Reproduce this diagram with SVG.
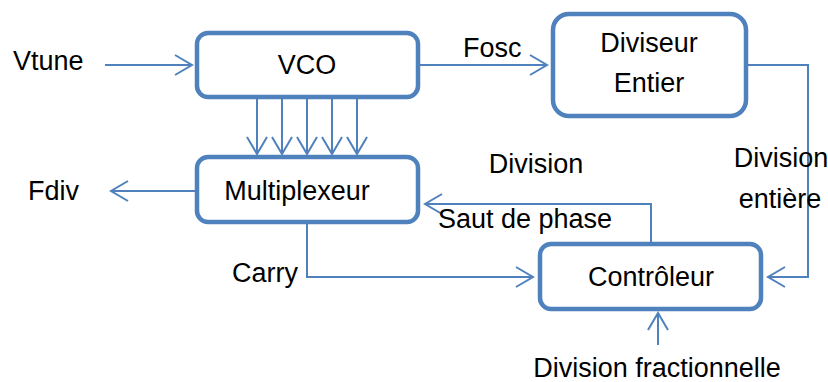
<svg xmlns="http://www.w3.org/2000/svg" width="828" height="382" viewBox="0 0 828 382">
<style>
.box{fill:#fff;stroke:#4F81BD;stroke-width:4.5}
.ln{fill:none;stroke:#4F81BD;stroke-width:2}
text{font-family:"Liberation Sans",Arial,sans-serif;font-size:27px;fill:#000}
</style>
<defs>
<marker id="ah" markerWidth="22" markerHeight="24" viewBox="-19 -12 22 24" refX="0" refY="0" orient="auto" markerUnits="userSpaceOnUse">
<polyline points="-17,-10 0,0 -17,10" fill="none" stroke="#4F81BD" stroke-width="2"/>
</marker>
</defs>
<rect width="828" height="382" fill="#fff"/>
<g id="connectors">
<line class="ln" x1="105" y1="65" x2="192" y2="65" marker-end="url(#ah)"/>
<line class="ln" x1="419" y1="65" x2="547" y2="65" marker-end="url(#ah)"/>
<line class="ln" x1="257" y1="98" x2="257" y2="154" marker-end="url(#ah)"/>
<line class="ln" x1="282" y1="98" x2="282" y2="154" marker-end="url(#ah)"/>
<line class="ln" x1="307" y1="98" x2="307" y2="154" marker-end="url(#ah)"/>
<line class="ln" x1="332" y1="98" x2="332" y2="154" marker-end="url(#ah)"/>
<line class="ln" x1="357" y1="98" x2="357" y2="154" marker-end="url(#ah)"/>
<line class="ln" x1="196" y1="191" x2="111" y2="191" marker-end="url(#ah)"/>
<polyline class="ln" points="307,223 307,277 533,277" marker-end="url(#ah)"/>
<polyline class="ln" points="651,242 651,204 425,204" marker-end="url(#ah)"/>
<polyline class="ln" points="748,65 808,65 808,277 768,277" marker-end="url(#ah)"/>
<line class="ln" x1="658" y1="345" x2="658" y2="313" marker-end="url(#ah)"/>
</g>
<g id="vco">
<rect class="box" x="197" y="33" width="221" height="64" rx="11"/>
<text x="307" y="74" text-anchor="middle">VCO</text>
</g>
<g id="diviseur">
<rect class="box" x="553" y="14" width="193" height="102" rx="16"/>
<text x="649" y="52" text-anchor="middle">Diviseur</text>
<text x="649" y="92" text-anchor="middle">Entier</text>
</g>
<g id="multiplexeur">
<rect class="box" x="197" y="157" width="221" height="65" rx="11"/>
<text x="297" y="200" text-anchor="middle">Multiplexeur</text>
</g>
<g id="controleur">
<rect class="box" x="540" y="244" width="221" height="65" rx="11"/>
<text x="651" y="286" text-anchor="middle">Contrôleur</text>
</g>
<g id="labels">
<text x="13" y="70">Vtune</text>
<text x="463" y="57">Fosc</text>
<text x="28" y="200">Fdiv</text>
<text x="536" y="173" text-anchor="middle">Division</text>
<text x="525" y="228" text-anchor="middle">Saut de phase</text>
<text x="232" y="282">Carry</text>
<text x="781" y="167" text-anchor="middle">Division</text>
<text x="780" y="208" text-anchor="middle">entière</text>
<text x="657" y="377" text-anchor="middle">Division fractionnelle</text>
</g>
</svg>
